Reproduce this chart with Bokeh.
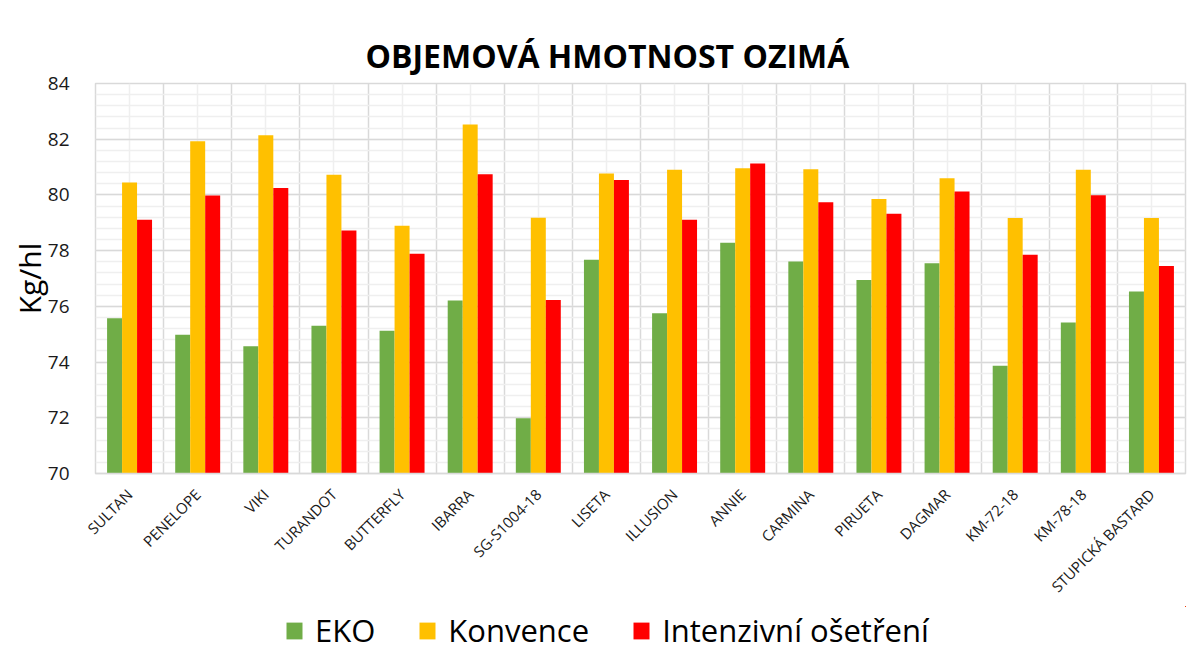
import math
import numpy as np
from bokeh.plotting import figure
from bokeh.layouts import column
from bokeh.models import ColumnDataSource, Range1d, FixedTicker, Legend, LegendItem
from bokeh.transform import dodge
from bokeh.embed import file_html
from bokeh.resources import INLINE

# ---- data ----
categories = ["SULTAN", "PENELOPE", "VIKI", "TURANDOT", "BUTTERFLY", "IBARRA",
              "SG-S1004-18", "LISETA", "ILLUSION", "ANNIE", "CARMINA", "PIRUETA",
              "DAGMAR", "KM-72-18", "KM-78-18", "STUPICKÁ BASTARD"]
eko = [75.57, 74.98, 74.57, 75.30, 75.12, 76.21, 71.98, 77.67,
       75.75, 78.28, 77.61, 76.95, 77.55, 73.87, 75.42, 76.53]
konvence = [80.45, 81.93, 82.14, 80.72, 78.89, 82.53, 79.18, 80.77,
            80.90, 80.96, 80.92, 79.85, 80.60, 79.17, 80.90, 79.17]
intenzivni = [79.11, 79.98, 80.25, 78.72, 77.89, 80.74, 76.23, 80.54,
              79.11, 81.13, 79.74, 79.32, 80.12, 77.85, 79.99, 77.45]
series_names = ["EKO", "Konvence", "Intenzivní ošetření"]
y_ticks = [70, 72, 74, 76, 78, 80, 82, 84]
title_text = "OBJEMOVÁ HMOTNOST OZIMÁ"
y_label = "Kg/hl"

colors = ["#70AD47", "#FFC000", "#FF0000"]
FONT = "Open Sans"

n = len(categories)
xc = [i + 0.5 for i in range(n)]
source = ColumnDataSource(dict(x=xc, cat=categories, eko=eko, konv=konvence, intz=intenzivni))

# ---------------- main chart ----------------
p = figure(width=1190, height=606,
           x_range=Range1d(0, n), y_range=Range1d(y_ticks[0], y_ticks[-1]),
           output_backend="svg", toolbar_location=None,
           min_border_left=95, min_border_right=5, min_border_top=83, min_border_bottom=132)

p.title.text = title_text
p.title.align = "left"
p.title.offset = 270
p.title.text_font = FONT
p.title.text_font_size = "32px"
p.title.text_font_style = "bold"
p.title.text_color = "#000000"
p.title.standoff = 14

bw = 0.22
offsets = [-bw, 0, bw]
cols = ["eko", "konv", "intz"]
for off, col, c in zip(offsets, cols, colors):
    p.vbar(x=dodge("x", off), top=col, bottom=y_ticks[0], width=bw,
           source=source, fill_color=c, line_color=None)

# grids
minor_y = [round(v, 1) for v in np.arange(y_ticks[0], y_ticks[-1] + 0.001, 0.4)]
p.ygrid.ticker = FixedTicker(ticks=y_ticks, minor_ticks=minor_y)
p.ygrid.grid_line_color = "#D9D9D9"
p.ygrid.grid_line_width = 1.5
p.ygrid.minor_grid_line_color = "#EFEFEF"
p.ygrid.minor_grid_line_width = 1.5
p.xgrid.ticker = FixedTicker(ticks=list(range(n + 1)), minor_ticks=xc)
p.xgrid.grid_line_color = "#D9D9D9"
p.xgrid.grid_line_width = 1.5
p.xgrid.minor_grid_line_color = "#EFEFEF"
p.xgrid.minor_grid_line_width = 1.5
p.outline_line_color = "#D9D9D9"
p.outline_line_width = 1.5

# y axis
p.yaxis.ticker = FixedTicker(ticks=y_ticks)
p.yaxis.axis_line_color = None
p.yaxis.major_tick_line_color = None
p.yaxis.minor_tick_line_color = None
p.yaxis.major_label_text_font = FONT
p.yaxis.major_label_text_font_size = "19px"
p.yaxis.major_label_text_color = "#1a1a1a"
p.yaxis.major_label_standoff = 20
p.yaxis.axis_label = y_label
p.yaxis.axis_label_text_font = FONT
p.yaxis.axis_label_text_font_size = "30px"
p.yaxis.axis_label_text_font_style = "normal"
p.yaxis.axis_label_text_color = "#000000"
p.yaxis.axis_label_standoff = -5

# x axis
p.xaxis.ticker = FixedTicker(ticks=xc)
p.xaxis.major_label_overrides = {x: c for x, c in zip(xc, categories)}
p.xaxis.major_label_orientation = math.pi / 4
p.xaxis.axis_line_color = "#D9D9D9"
p.xaxis.axis_line_width = 1.5
p.xaxis.major_tick_line_color = None
p.xaxis.minor_tick_line_color = None
p.xaxis.major_label_text_font = FONT
p.xaxis.major_label_text_font_size = "15px"
p.xaxis.major_label_text_color = "#1a1a1a"
p.xaxis.major_label_standoff = 12

# ---------------- legend strip ----------------
leg = figure(width=1190, height=64, x_range=Range1d(-3, -2), y_range=Range1d(-3, -2),
             output_backend="svg", toolbar_location=None,
             x_axis_location=None, y_axis_location=None, min_border=0)
leg.grid.visible = False
leg.outline_line_color = None
leg_renderers = []
for col, c in zip(cols, colors):
    # same data; lies outside this strip's ranges, so only its legend swatch shows
    r = leg.vbar(x="x", top=col, bottom=y_ticks[0], width=bw, source=source,
                 fill_color=c, line_color=None)
    leg_renderers.append(r)

legend = Legend(items=[LegendItem(label=nm, renderers=[r]) for nm, r in zip(series_names, leg_renderers)],
                orientation="horizontal", location=(189, 19))
legend.label_text_font = FONT
legend.label_text_font_size = "31px"
legend.label_text_color = "#000000"
legend.glyph_width = 20
legend.glyph_height = 21
legend.spacing = 42
legend.label_standoff = 11
legend.border_line_color = None
legend.background_fill_alpha = 0
legend.margin = 0
legend.padding = 0
leg.add_layout(legend, "center")

layout = column(p, leg, spacing=0)
open("out.html", "w").write(file_html(layout, INLINE))
